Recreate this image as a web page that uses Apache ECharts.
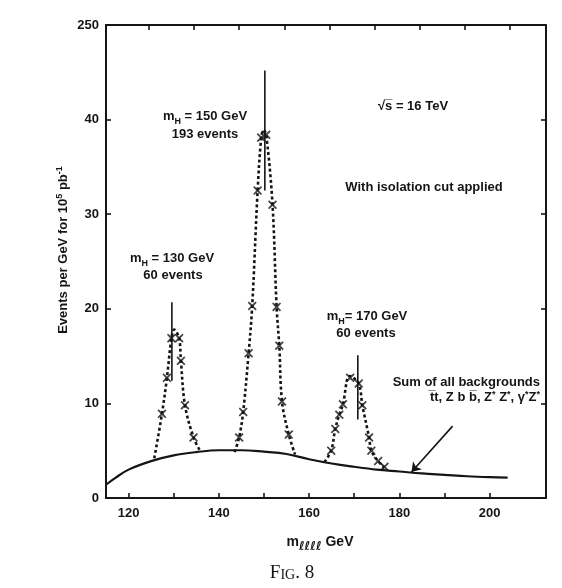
<!DOCTYPE html>
<html>
<head>
<meta charset="utf-8">
<script src="https://cdn.jsdelivr.net/npm/echarts@6/dist/echarts.min.js"></script>
<style>
html,body{margin:0;padding:0;background:#fff;}
#chart{width:562px;height:588px;}
</style>
</head>
<body>
<div id="chart"></div>
<script>
// ---- data ----
var xTickValues = [120, 130, 140, 150, 160, 170, 180, 190, 200];
var xLabelValues = [120, 140, 160, 180, 200];
var topTickValues = [124.5, 134.5, 144.5, 154.5, 164.5, 174.5, 184.5, 194.5, 204.5];
var yTickLabels = ['0', '10', '20', '30', '40', '250'];

var background = [[115,1.4],[117,2.1],[120,3.0],[125,3.9],[130,4.5],[135,4.85],[140,5.05],[145,5.05],[150,4.9],[155,4.65],[160,4.1],[165,3.65],[170,3.3],[175,3.0],[180,2.8],[185,2.6],[190,2.45],[195,2.3],[200,2.2],[204,2.15]];

var crosses130 = [[127.4,8.9],[128.5,12.7],[129.5,16.9],[131.2,16.9],[131.6,14.5],[132.5,9.8],[134.4,6.4]];
var crosses150 = [[144.5,6.4],[145.4,9.1],[146.6,15.3],[147.4,20.3],[148.6,32.5],[149.4,38.1],[150.5,38.4],[151.9,31.0],[152.8,20.2],[153.4,16.1],[154.0,10.2],[155.5,6.7]];
var crosses170 = [[164.9,5.0],[165.8,7.3],[166.7,8.8],[167.5,9.9],[169.1,12.7],[171.0,12.1],[171.8,9.8],[173.3,6.4],[173.8,5.0],[175.3,3.9],[176.7,3.3]];

var dashed130 = [[125.7,4.2],[127.4,8.9],[128.5,12.7],[129.5,16.9],[130.1,17.8],[131.2,16.9],[131.6,14.5],[132.5,9.8],[134.4,6.4],[135.9,4.95]];
var dashed150 = [[143.5,4.85],[144.5,6.4],[145.4,9.1],[146.6,15.3],[147.4,20.3],[148.6,32.5],[149.4,38.1],[149.9,38.9],[150.5,38.4],[151.9,31.0],[152.8,20.2],[153.4,16.1],[154.0,10.2],[155.5,6.7],[156.9,4.6]];
var dashed170 = [[163.4,3.8],[164.9,5.0],[165.8,7.3],[166.7,8.8],[167.5,9.9],[169.0,12.9],[171.0,12.1],[171.8,9.8],[173.3,6.4],[173.8,5.0],[175.3,3.9],[176.7,3.2]];

var massLine130 = [[129.6,12.4],[129.6,20.7]];
var massLine150 = [[150.2,32.5],[150.2,45.2]];
var massLine170 = [[170.8,8.3],[170.8,15.1]];

var arrowLine = [[191.8,7.6],[182.7,2.75]];

// ---- styling ----
var INK = '#151515';
var FONT = 'Liberation Sans, Arial, sans-serif';
var crossPath = 'path://M1.3,0L5,3.5L8.7,0L10,1.3L6.5,5L10,8.7L8.7,10L5,6.5L1.3,10L0,8.7L3.5,5L0,1.3Z';

function crossSeries(data) {
  return {type:'scatter', data:data, symbol:crossPath, symbolSize:9, itemStyle:{color:INK}, z:5, silent:true};
}
function dashSeries(data) {
  return {type:'line', data:data, smooth:0.35, symbol:'none', lineStyle:{color:INK, width:2.6, type:[3,2.6]}, z:3, silent:true};
}
function vSeries(data) {
  return {type:'line', data:data, symbol:'none', lineStyle:{color:INK, width:1.6}, z:4, silent:true};
}

var chart = echarts.init(document.getElementById('chart'), null, {renderer:'canvas'});

var subRich = {
  sub: {fontFamily:FONT, fontSize:9, fontWeight:'bold', color:INK, lineHeight:9, verticalAlign:'bottom'},
  sup: {fontFamily:FONT, fontSize:9, fontWeight:'bold', color:INK, lineHeight:9, verticalAlign:'top'}
};

function txt(x, y, text, align, rotation, lh) {
  return {type:'text', x:x, y:y, rotation:rotation || 0, z:10, silent:true,
    style:{text:text, align:align || 'center', verticalAlign:'middle', rich:subRich,
      fontFamily:FONT, fontSize:13, fontWeight:'bold', lineHeight:lh || 20, fill:INK}};
}

var option = {
  backgroundColor:'#ffffff',
  animation:false,
  grid:{left:106, right:16, top:25, bottom:90},
  xAxis:[{
    type:'value', min:115, max:212.5, position:'bottom',
    axisLine:{show:true, onZero:false, lineStyle:{color:INK, width:2}},
    axisTick:{show:true, inside:true, length:5, customValues:xTickValues, lineStyle:{color:INK, width:1.6}},
    axisLabel:{show:true, customValues:xLabelValues, margin:9, color:INK, fontFamily:FONT, fontSize:13, fontWeight:'bold'},
    splitLine:{show:false}
  },{
    type:'value', min:115, max:212.5, position:'top',
    axisLine:{show:true, onZero:false, lineStyle:{color:INK, width:2}},
    axisTick:{show:true, inside:true, length:5, customValues:topTickValues, lineStyle:{color:INK, width:1.6}},
    axisLabel:{show:false},
    splitLine:{show:false}
  }],
  yAxis:[{
    type:'value', min:0, max:50, interval:10, position:'left',
    axisLine:{show:true, onZero:false, lineStyle:{color:INK, width:2}},
    axisTick:{show:true, inside:true, length:5, lineStyle:{color:INK, width:1.6}},
    axisLabel:{show:true, margin:7, color:INK, fontFamily:FONT, fontSize:13, fontWeight:'bold',
      formatter:function(v){ return yTickLabels[Math.round(v/10)]; }},
    splitLine:{show:false}
  },{
    type:'value', min:0, max:50, interval:10, position:'right',
    axisLine:{show:true, onZero:false, lineStyle:{color:INK, width:2}},
    axisTick:{show:true, inside:true, length:5, lineStyle:{color:INK, width:1.6}},
    axisLabel:{show:false},
    splitLine:{show:false}
  }],
  series:[
    {type:'line', data:background, smooth:0.4, symbol:'none', lineStyle:{color:INK, width:2.2}, z:2, silent:true},
    dashSeries(dashed130), dashSeries(dashed150), dashSeries(dashed170),
    crossSeries(crosses130), crossSeries(crosses150), crossSeries(crosses170),
    vSeries(massLine130), vSeries(massLine150), vSeries(massLine170),
    {type:'lines', coordinateSystem:'cartesian2d', polyline:false, silent:true, z:6,
      symbol:['none','arrow'], symbolSize:[0,9],
      lineStyle:{color:INK, width:1.6, opacity:1},
      data:[{coords:arrowLine}]}
  ],
  graphic:[
    txt(205,116,'m{sub|H} = 150 GeV'),
    txt(205,134,'193 events'),
    txt(172,258,'m{sub|H} = 130 GeV'),
    txt(173,275,'60 events'),
    txt(413,106,'√s\u0305 = 16 TeV'),
    txt(424,187,'With isolation cut applied'),
    txt(367,316,'m{sub|H}= 170 GeV'),
    txt(366,333,'60 events'),
    txt(540,382,'Sum of all backgrounds','right'),
    txt(540,397,'t\u0305t, Z b b\u0305, Z{sup|*} Z{sup|*}, γ{sup|*}Z{sup|*}','right',0,13),
    txt(63,250,'Events per GeV for 10{sup|5} pb{sup|-1}','center',Math.PI/2,16),
    {type:'text', x:320, y:542, z:10, silent:true,
      style:{text:'m{s|ℓℓℓℓ} GeV', align:'center', verticalAlign:'middle',
        fontFamily:FONT, fontSize:14, fontWeight:'bold', lineHeight:22, fill:INK,
        rich:{s:{fontFamily:'DejaVu Sans', fontSize:12, fontWeight:'bold', fontStyle:'italic', color:INK, lineHeight:12, verticalAlign:'bottom'}}}},
    {type:'text', x:292, y:573, z:10, silent:true,
      style:{text:'F{sc|IG}. 8', align:'center', verticalAlign:'middle',
        fontFamily:'Liberation Serif, DejaVu Serif, serif', fontSize:19, fill:INK,
        rich:{sc:{fontFamily:'Liberation Serif, DejaVu Serif, serif', fontSize:14, color:INK, verticalAlign:'bottom', lineHeight:16}}}}
  ]
};
chart.setOption(option);
</script>
</body>
</html>
